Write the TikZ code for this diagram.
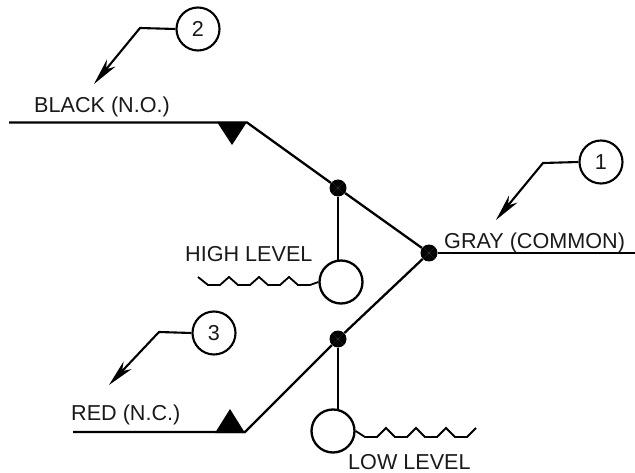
\documentclass[tikz,border=0pt]{standalone}
\usepackage{fontspec}
\setmainfont{Liberation Sans}
\usetikzlibrary{arrows.meta}
\tikzset{
  wire/.style={line width=2.3pt,line join=miter,black},
  leader/.style={line width=2.1pt,black,-{Stealth[length=27pt,width=11pt,inset=8pt]}},
  lbl/.style={inner sep=0pt,anchor=base west,font=\fontsize{21.6}{24}\selectfont,text=black!90},
  callout/.style={circle,draw=black,line width=2.1pt,minimum size=43pt,inner sep=0pt,fill=white,font=\fontsize{21.6}{24}\selectfont,text=black!90},
  float/.style={circle,draw=black,line width=2.3pt,minimum size=43pt,inner sep=0pt,fill=white},
  junction/.style={circle,fill=black,minimum size=17pt,inner sep=0pt,
    path picture={\draw[gray!45!black,line width=0.3pt]
      (path picture bounding box.north) -- (path picture bounding box.south)
      (path picture bounding box.west) -- (path picture bounding box.east)
      (path picture bounding box.north west) -- (path picture bounding box.south east)
      (path picture bounding box.north east) -- (path picture bounding box.south west);}},
  tri/.style={fill=black,draw=none},
  ripple/.style={line width=1.8pt,black,line join=miter}
}
\begin{document}
\begin{tikzpicture}[x=1pt,y=-1pt]
\useasboundingbox (0,0) rectangle (635,473);
% named points
\coordinate (blackEnd) at (9,122.5);
\coordinate (blackBend) at (247,122.5);
\coordinate (redEnd) at (73,432);
\coordinate (redBend) at (245,432);
\coordinate (grayEnd) at (635,253);
\coordinate (lead2) at (140,28);
\coordinate (tip2) at (94,84);
\coordinate (lead1) at (543,163);
\coordinate (tip1) at (496,220);
\coordinate (lead3) at (159,332);
\coordinate (tip3) at (109,385);
% junctions and floats
\node[junction] (com) at (429,253) {};
\node[junction] (hi) at (338,188) {};
\node[junction] (lo) at (338,339) {};
\node[float] (hifloat) at (341,282) {};
\node[float] (lofloat) at (333,431) {};
\node[callout] (c1) at (601,162) {1};
\node[callout] (c2) at (198,29) {2};
\node[callout] (c3) at (214,333) {3};
% wires
\draw[wire] (blackEnd) -- (blackBend) -- (hi) -- (com);
\draw[wire] (redEnd) -- (redBend) -- (lo) -- (com);
\draw[wire] (com) -- (grayEnd);
\draw[wire] (hi) -- (338,261);
\draw[wire] (lo) -- (338,409);
% triangles
\fill[tri] (217,122) -- (247,122) -- (232,145) -- cycle;
\fill[tri] (215,433) -- (245,433) -- (230,409) -- cycle;
% leaders
\draw[leader] (c2.west) -- (lead2) -- (tip2);
\draw[leader] (c1.west) -- (lead1) -- (tip1);
\draw[leader] (c3.west) -- (lead3) -- (tip3);
% ripples
\draw[ripple] (198,277) -- (208,285) -- (220,285) -- (229,277) -- (238,285) -- (250,285) -- (259,277) -- (268,285) -- (280,285) -- (289,277) -- (298,285) -- (310,285) -- (hifloat.west);
\draw[ripple] (lofloat.east) -- (365,437) -- (377,437) -- (386,428) -- (395,437) -- (407,437) -- (416,428) -- (425,437) -- (437,437) -- (446,428) -- (455,437) -- (467,437) -- (476,428);
% labels
\node[lbl] (tblack) at (34,112.5) {BLACK (N.O.)};
\node[lbl] (tgray) at (444,249) {GRAY (COMMON)};
\node[lbl] (thigh) at (185,262) {HIGH LEVEL};
\node[lbl] (tred) at (71,420) {RED (N.C.)};
\node[lbl] (tlow) at (348,469) {LOW LEVEL};
\end{tikzpicture}
\end{document}
